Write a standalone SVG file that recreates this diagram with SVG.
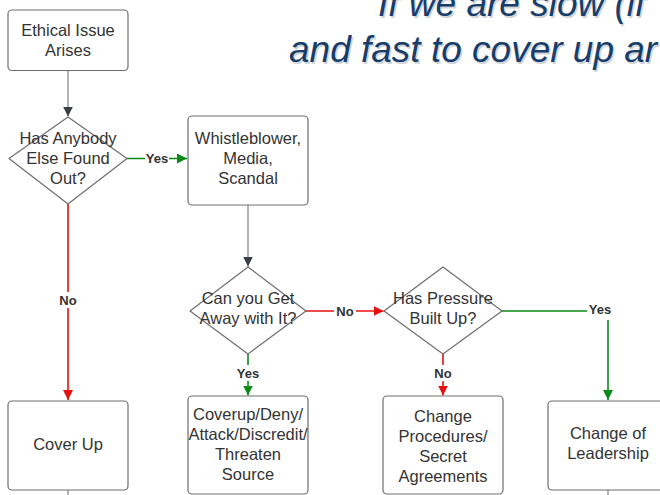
<svg xmlns="http://www.w3.org/2000/svg" width="660" height="495" viewBox="0 0 660 495">
<style>
.box{fill:#fff;stroke:#6e6e6e;stroke-width:1.2}
.t{font-family:"Liberation Sans",Arial,sans-serif;font-size:16.5px;fill:#333;text-anchor:middle}
.lbl{font-family:"Liberation Sans",Arial,sans-serif;font-size:13px;font-weight:bold;fill:#333;text-anchor:middle}
.title{font-family:"Liberation Sans",Arial,sans-serif;font-size:37px;font-style:italic;fill:#173D6B}
.shadow{font-family:"Liberation Sans",Arial,sans-serif;font-size:37px;font-style:italic;fill:#9aa3ad;opacity:0.45}
.g{stroke:#7d7f84;stroke-width:1.2;fill:none}
.gr{stroke:#0b8a17;stroke-width:1.6;fill:none}
.rd{stroke:#e8100f;stroke-width:1.6;fill:none}
.lbg{fill:#fff}
</style>
<defs>
<marker id="ag" viewBox="0 0 10 10" refX="10" refY="5" markerWidth="10" markerHeight="10" markerUnits="userSpaceOnUse" orient="auto"><path d="M0,0 L10,5 L0,10 z" fill="#3a3d44"/></marker>
<marker id="agr" viewBox="0 0 10 10" refX="10" refY="5" markerWidth="10" markerHeight="10" markerUnits="userSpaceOnUse" orient="auto"><path d="M0,0 L10,5 L0,10 z" fill="#0b8a17"/></marker>
<marker id="ard" viewBox="0 0 10 10" refX="10" refY="5" markerWidth="10" markerHeight="10" markerUnits="userSpaceOnUse" orient="auto"><path d="M0,0 L10,5 L0,10 z" fill="#e8100f"/></marker>
</defs>

<g id="title">
<text class="shadow" x="379.5" y="17.5">If we are slow (if</text>
<text class="shadow" x="290.5" y="63.5">and fast to cover up ar</text>
<text class="title" x="378" y="16">If we are slow (if</text>
<text class="title" x="289" y="62">and fast to cover up ar</text>
</g>

<g id="connectors">
<path class="g" d="M68,70.5 V116.5" marker-end="url(#ag)"/>
<path class="gr" d="M127,158.5 H187" marker-end="url(#agr)"/>
<path class="rd" d="M68,204 V400" marker-end="url(#ard)"/>
<path class="g" d="M248,205 V266.5" marker-end="url(#ag)"/>
<path class="rd" d="M306,311 H383.5" marker-end="url(#ard)"/>
<path class="gr" d="M248,354 V395.5" marker-end="url(#agr)"/>
<path class="rd" d="M443,354 V395.5" marker-end="url(#ard)"/>
<path class="gr" d="M502,311 H608 V400" marker-end="url(#agr)"/>
<path class="g" d="M68,490 V495"/>
<path class="g" d="M608,490 V495"/>
<rect class="lbg" x="145" y="151" width="24" height="15"/>
<text class="lbl" x="157" y="163">Yes</text>
<rect class="lbg" x="56" y="292" width="24" height="16"/>
<text class="lbl" x="68" y="305">No</text>
<rect class="lbg" x="334" y="303" width="22" height="16"/>
<text class="lbl" x="345" y="315.5">No</text>
<rect class="lbg" x="235" y="365" width="26" height="16"/>
<text class="lbl" x="248" y="378">Yes</text>
<rect class="lbg" x="431" y="365" width="24" height="16"/>
<text class="lbl" x="443" y="378">No</text>
<rect class="lbg" x="587" y="302" width="26" height="18"/>
<text class="lbl" x="600" y="314">Yes</text>
</g>

<g id="ethical">
<rect class="box" x="8" y="10" width="120" height="60.5" rx="4"/>
<text class="t" x="68" y="35.5">Ethical Issue</text>
<text class="t" x="68" y="55.5">Arises</text>
</g>

<g id="found-out">
<path class="box" d="M68,117 L127,158.5 L68,204 L9,158.5 Z" stroke-linejoin="round"/>
<text class="t" x="68" y="144">Has Anybody</text>
<text class="t" x="68" y="164">Else Found</text>
<text class="t" x="68" y="184">Out?</text>
</g>

<g id="whistleblower">
<rect class="box" x="188" y="116" width="120" height="89" rx="4"/>
<text class="t" x="248" y="144">Whistleblower,</text>
<text class="t" x="248" y="164">Media,</text>
<text class="t" x="248" y="184">Scandal</text>
</g>

<g id="get-away">
<path class="box" d="M248,267 L306,311 L248,354 L190,311 Z" stroke-linejoin="round"/>
<text class="t" x="248" y="304">Can you Get</text>
<text class="t" x="248" y="323.5">Away with It?</text>
</g>

<g id="pressure">
<path class="box" d="M443,267 L502,311 L443,354 L384,311 Z" stroke-linejoin="round"/>
<text class="t" x="443" y="304">Has Pressure</text>
<text class="t" x="443" y="323.5">Built Up?</text>
</g>

<g id="cover-up">
<rect class="box" x="8" y="401" width="120" height="89" rx="4"/>
<text class="t" x="68" y="450">Cover Up</text>
</g>

<g id="coverup-deny">
<rect class="box" x="188" y="396" width="120" height="98" rx="4"/>
<text class="t" x="248" y="420">Coverup/Deny/</text>
<text class="t" x="248" y="440">Attack/Discredit/</text>
<text class="t" x="248" y="460">Threaten</text>
<text class="t" x="248" y="480">Source</text>
</g>

<g id="change-procedures">
<rect class="box" x="383" y="396" width="120" height="98" rx="4"/>
<text class="t" x="443" y="422">Change</text>
<text class="t" x="443" y="442">Procedures/</text>
<text class="t" x="443" y="462">Secret</text>
<text class="t" x="443" y="482">Agreements</text>
</g>

<g id="change-leadership">
<rect class="box" x="548" y="401" width="120" height="89" rx="4"/>
<text class="t" x="608" y="439">Change of</text>
<text class="t" x="608" y="459">Leadership</text>
</g>
</svg>
